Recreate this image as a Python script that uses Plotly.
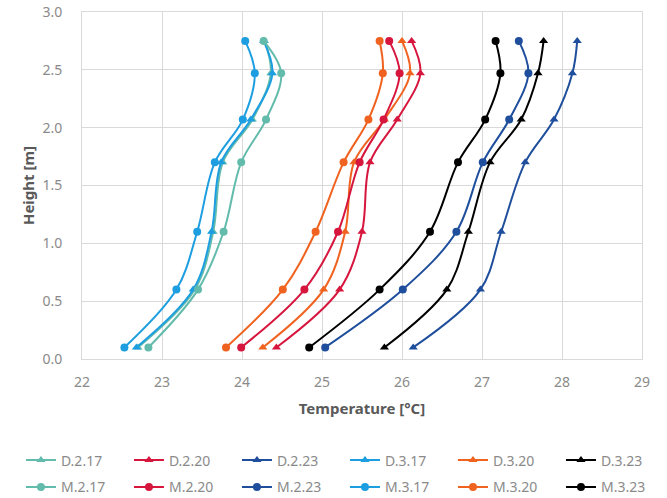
import plotly.graph_objects as go

heights = [0.1, 0.6, 1.1, 1.7, 2.07, 2.47, 2.75]

D_2_17 = [22.70, 23.41, 23.64, 23.76, 24.13, 24.36, 24.28]
D_2_20 = [24.43, 25.22, 25.50, 25.60, 25.94, 26.23, 26.12]
D_2_23 = [26.14, 26.98, 27.24, 27.54, 27.90, 28.13, 28.19]
D_3_17 = [22.68, 23.39, 23.62, 23.74, 24.11, 24.38, 24.27]
D_3_20 = [24.26, 25.02, 25.29, 25.40, 25.78, 26.10, 26.00]
D_3_23 = [25.78, 26.56, 26.83, 27.10, 27.49, 27.70, 27.77]

M_2_17 = [22.83, 23.45, 23.77, 23.99, 24.30, 24.49, 24.27]
M_2_20 = [23.99, 24.78, 25.20, 25.47, 25.77, 25.97, 25.84]
M_2_23 = [25.04, 26.01, 26.68, 27.01, 27.34, 27.58, 27.46]
M_3_17 = [22.53, 23.18, 23.44, 23.66, 24.01, 24.16, 24.04]
M_3_20 = [23.80, 24.51, 24.92, 25.27, 25.58, 25.76, 25.72]
M_3_23 = [24.84, 25.72, 26.35, 26.70, 27.04, 27.23, 27.17]

d_series = [("D.2.17", D_2_17), ("D.2.20", D_2_20), ("D.2.23", D_2_23),
            ("D.3.17", D_3_17), ("D.3.20", D_3_20), ("D.3.23", D_3_23)]
m_series = [("M.2.17", M_2_17), ("M.2.20", M_2_20), ("M.2.23", M_2_23),
            ("M.3.17", M_3_17), ("M.3.20", M_3_20), ("M.3.23", M_3_23)]
colors = ["#63BBAC", "#D7163E", "#1F4E9C", "#1C9EE0", "#F0621F", "#000000"]

x_ticks = [22, 23, 24, 25, 26, 27, 28, 29]
y_ticks = [0.0, 0.5, 1.0, 1.5, 2.0, 2.5, 3.0]

# legend slots: row (D / M) x half (first three / last three)
legend_ids = ["legend", "legend2", "legend3", "legend4"]

fig = go.Figure()
for i, ((name, vals), c) in enumerate(zip(d_series, colors)):
    fig.add_trace(go.Scatter(
        x=vals, y=heights, name=name, mode="lines+markers",
        line=dict(color=c, width=2, shape="spline", smoothing=1.0),
        marker=dict(symbol="triangle-up", size=8, color=c),
        legend=legend_ids[0 if i < 3 else 1]))
for i, ((name, vals), c) in enumerate(zip(m_series, colors)):
    fig.add_trace(go.Scatter(
        x=vals, y=heights, name=name, mode="lines+markers",
        line=dict(color=c, width=2, shape="spline", smoothing=1.0),
        marker=dict(symbol="circle", size=8, color=c),
        legend=legend_ids[2 if i < 3 else 3]))

tick_font = dict(family="Noto Sans", size=14, color="#8a8a8a")
title_font = dict(family="Noto Sans", size=15, color="#595959")
leg_font = dict(family="Noto Sans", size=14, color="#8a8a8a")


def leg(x, y):
    return dict(orientation="h", x=x, xanchor="left", y=y, yanchor="top",
                entrywidth=63, entrywidthmode="pixels", font=leg_font,
                bgcolor="rgba(0,0,0,0)", traceorder="normal")


fig.update_layout(
    width=667, height=498,
    margin=dict(l=82, r=25, t=12, b=139, autoexpand=False),
    paper_bgcolor="white", plot_bgcolor="white",
    xaxis=dict(
        range=[22, 29], tickvals=x_ticks, ticktext=[str(v) for v in x_ticks],
        showgrid=True, gridcolor="#d9d9d9", gridwidth=1,
        showline=True, linecolor="#d9d9d9", mirror=True, zeroline=False,
        ticks="outside", ticklen=10, tickcolor="rgba(0,0,0,0)",
        tickfont=tick_font, automargin=False,
        title=dict(text="<b>Temperature [°C]</b>", font=title_font, standoff=13),
    ),
    yaxis=dict(
        range=[0, 3], tickvals=y_ticks, ticktext=[f"{v:.1f}" for v in y_ticks],
        showgrid=True, gridcolor="#d9d9d9", gridwidth=1,
        showline=True, linecolor="#d9d9d9", mirror=True, zeroline=False,
        ticks="outside", ticklen=16, tickcolor="rgba(0,0,0,0)",
        tickfont=tick_font, automargin=False,
        title=dict(text="<b>Height [m]</b>", font=title_font, standoff=4),
    ),
    legend=leg(-0.109, -0.2462),
    legend2=leg(0.4696, -0.2462),
    legend3=leg(-0.109, -0.324),
    legend4=leg(0.4696, -0.324),
    showlegend=True,
)

fig.write_html("out.html", config={"displayModeBar": False},
               post_script="document.body.style.margin='0px';")
